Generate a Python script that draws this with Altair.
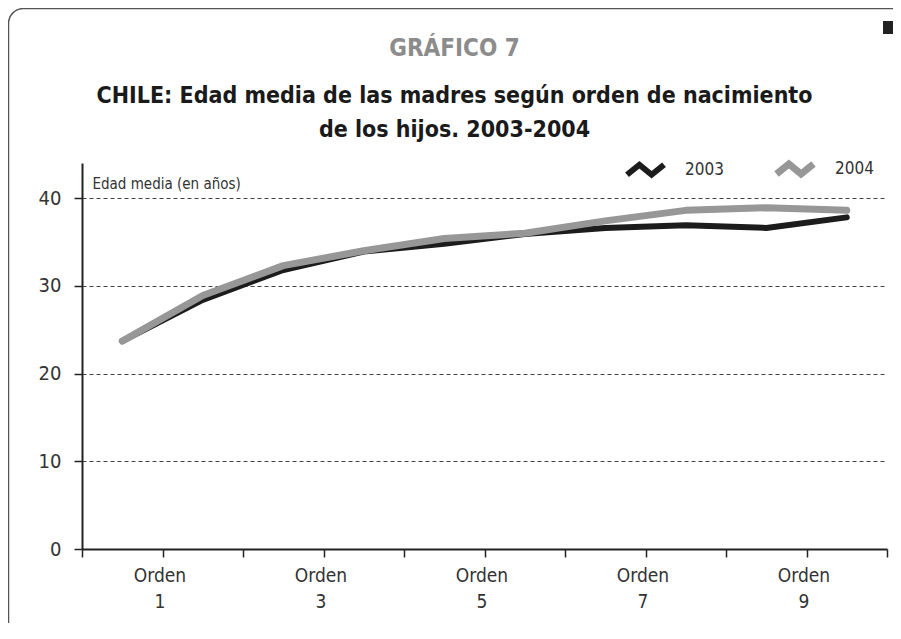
import altair as alt
import pandas as pd

# ---- data ----
orden = [1, 2, 3, 4, 5, 6, 7, 8, 9, 10]
edad_2003 = [23.7, 28.4, 31.8, 33.9, 34.8, 35.9, 36.6, 36.9, 36.6, 37.8]
edad_2004 = [23.7, 28.9, 32.3, 34.0, 35.4, 36.0, 37.4, 38.6, 38.9, 38.6]
series = ["2003", "2004"]
series_colors = ["#1c1c1c", "#979797"]
series_widths = [6, 7]
y_ticks = [0, 10, 20, 30, 40]
x_ticks = [0, 1, 2, 3, 4, 5, 6, 7, 8, 9, 10]

rows = []
for s, vals in zip(series, [edad_2003, edad_2004]):
    for o, v in zip(orden, vals):
        rows.append({"orden": o, "serie": s, "edad": v})
df = pd.DataFrame(rows)

FONT = "DejaVu Sans Condensed, sans-serif"
ZIG = "M-1,0.27L-0.33,-0.27L0.33,0.27L1,-0.27"

lines = (
    alt.Chart(df)
    .transform_calculate(pos="datum.orden - 0.5")
    .mark_line(strokeCap="round", strokeJoin="round")
    .encode(
        x=alt.X(
            "pos:Q",
            scale=alt.Scale(domain=[0, 10], nice=False, zero=False),
            axis=alt.Axis(
                values=x_ticks,
                labelExpr="datum.value % 2 == 1 ? ['Orden', '' + datum.value] : ''",
                grid=False,
                tickSize=8,
                tickWidth=1.5,
                tickColor="#222222",
                domainColor="#222222",
                domainWidth=2,
                labelFont=FONT,
                labelFontSize=19,
                labelLineHeight=26,
                labelPadding=9,
                labelOffset=-3,
                labelColor="#333333",
                labelFlush=False,
                labelOverlap=False,
                title=None,
            ),
        ),
        y=alt.Y(
            "edad:Q",
            scale=alt.Scale(domain=[0, 44], nice=False),
            axis=alt.Axis(
                values=y_ticks,
                grid=True,
                gridDash=[4, 3],
                gridColor="#444444",
                gridWidth=1,
                tickSize=8,
                tickWidth=1.5,
                tickColor="#222222",
                domainColor="#222222",
                domainWidth=2,
                labelFont=FONT,
                labelFontSize=20,
                labelPadding=13,
                labelColor="#333333",
                title="Edad media (en años)",
                titleAngle=0,
                titleX=10,
                titleY=20,
                titleAlign="left",
                titleBaseline="middle",
                titleFont=FONT,
                titleFontSize=15,
                titleFontWeight="normal",
                titleColor="#333333",
            ),
        ),
        color=alt.Color(
            "serie:N",
            scale=alt.Scale(domain=series, range=series_colors),
            legend=alt.Legend(
                title=None,
                orient="none",
                legendX=542,
                legendY=-16,
                direction="horizontal",
                symbolType=ZIG,
                symbolSize=1369,
                symbolStrokeWidth=7,
                symbolFillColor="transparent",
                labelFont=FONT,
                labelFontSize=17,
                labelColor="#333333",
                labelOffset=18,
                columnPadding=38,
                padding=0,
            ),
        ),
        strokeWidth=alt.StrokeWidth(
            "serie:N", scale=alt.Scale(domain=series, range=series_widths), legend=None
        ),
    )
)

frame = alt.Chart(alt.Data(values=[{}])).mark_rect(
    fill=None, stroke="#555555", strokeWidth=1.5, cornerRadius=15
).encode(
    x=alt.value(-73.5), x2=alt.value(900), y=alt.value(-154.5), y2=alt.value(600)
)

corner = alt.Chart(alt.Data(values=[{}])).mark_rect(fill="#222222").encode(
    x=alt.value(801), x2=alt.value(816), y=alt.value(-142), y2=alt.value(-129)
)

chart = (
    alt.layer(frame, corner, lines)
    .properties(
        width=805,
        height=386,
        autosize=alt.AutoSizeParams(type="none"),
        padding={"left": 74, "top": 155, "right": 6, "bottom": 74},
        title=alt.Title(
            text="GRÁFICO 7",
            subtitle=[
                "CHILE: Edad media de las madres según orden de nacimiento",
                "de los hijos. 2003-2004",
            ],
            anchor="middle",
            frame="group",
            dx=-30,
            offset=-134,
            color="#8c8c8c",
            font=FONT,
            fontSize=24,
            fontWeight="bold",
            subtitleColor="#1a1a1a",
            subtitleFont=FONT,
            subtitleFontSize=23,
            subtitleFontWeight="bold",
            subtitleLineHeight=34,
            subtitlePadding=24,
        ),
    )
    .configure_view(stroke=None)
)

chart.save("out.html", embed_options={"renderer": "svg", "actions": False})
